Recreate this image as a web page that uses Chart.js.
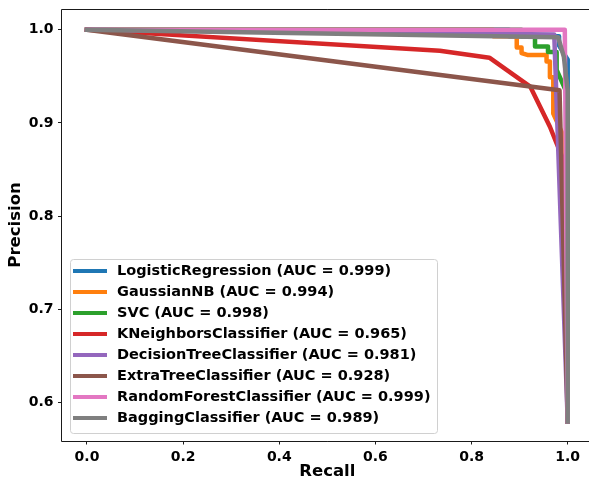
<!DOCTYPE html>
<html>
<head>
<meta charset="utf-8">
<script src="https://cdn.jsdelivr.net/npm/chart.js@4/dist/chart.umd.min.js"></script>
<style>
html,body{margin:0;padding:0;overflow:hidden;background:#fff;}
#wrap{width:600px;height:483px;}
</style>
</head>
<body>
<div id="wrap"><canvas id="c" width="600" height="483"></canvas></div>
<script>
// ---- data ----
const seriesNames = [
  "LogisticRegression (AUC = 0.999)",
  "GaussianNB (AUC = 0.994)",
  "SVC (AUC = 0.998)",
  "KNeighborsClassifier (AUC = 0.965)",
  "DecisionTreeClassifier (AUC = 0.981)",
  "ExtraTreeClassifier (AUC = 0.928)",
  "RandomForestClassifier (AUC = 0.999)",
  "BaggingClassifier (AUC = 0.989)"
];
const seriesColors = ["#1f77b4","#ff7f0e","#2ca02c","#d62728","#9467bd","#8c564b","#e377c2","#7f7f7f"];

const lrRecall    = [0, 0.878, 0.878, 0.982, 0.982, 1.0, 1.0];
const lrPrecision = [1, 1.0, 0.993, 0.993, 0.983, 0.968, 0.58];

const gnbRecall    = [0, 0.845, 0.845, 0.894, 0.894, 0.904, 0.904, 0.916, 0.956, 0.956, 0.963, 0.963, 0.970, 0.970, 0.992, 1.0];
const gnbPrecision = [1, 1.0, 0.993, 0.993, 0.981, 0.981, 0.975, 0.973, 0.973, 0.966, 0.966, 0.949, 0.949, 0.910, 0.885, 0.58];

const svcRecall    = [0, 0.904, 0.904, 0.932, 0.932, 0.959, 0.959, 0.977, 0.977, 1.0, 1.0];
const svcPrecision = [1, 1.0, 0.993, 0.993, 0.982, 0.982, 0.976, 0.976, 0.957, 0.93, 0.58];

const knnRecall    = [0, 0.734, 0.837, 0.922, 0.963, 0.977, 0.994, 1.0];
const knnPrecision = [1, 0.9775, 0.970, 0.939, 0.896, 0.878, 0.857, 0.58];

const dtRecall    = [0, 0.972, 1.0];
const dtPrecision = [1, 0.995, 0.58];

const etRecall    = [0, 0.983, 1.0];
const etPrecision = [1, 0.935, 0.58];

const rfRecall    = [0, 0.994, 1.0];
const rfPrecision = [1, 1.0, 0.58];

const bagRecall    = [0, 0.980, 0.992, 1.0, 1.0];
const bagPrecision = [1, 0.992, 0.971, 0.935, 0.58];

const allRecall = [lrRecall, gnbRecall, svcRecall, knnRecall, dtRecall, etRecall, rfRecall, bagRecall];
const allPrecision = [lrPrecision, gnbPrecision, svcPrecision, knnPrecision, dtPrecision, etPrecision, rfPrecision, bagPrecision];

const xTicks = [0.0, 0.2, 0.4, 0.6, 0.8, 1.0];
const yTicks = [0.6, 0.7, 0.8, 0.9, 1.0];
const xTitle = "Recall";
const yTitle = "Precision";

// ---- chart ----
const FONT = "'DejaVu Sans', 'Liberation Sans', sans-serif";
const datasets = seriesNames.map((name, i) => ({
  label: name,
  data: allRecall[i].map((r, k) => ({x: r, y: allPrecision[i][k]})),
  borderColor: seriesColors[i],
  backgroundColor: seriesColors[i],
  borderWidth: 4.5,
  borderCapStyle: 'square',
  borderJoinStyle: 'round',
  pointRadius: 0,
  tension: 0,
  fill: false,
  order: seriesNames.length - 1 - i
}));

const frameAndLegend = {
  id: 'frameAndLegend',
  afterDraw(chart) {
    const ctx = chart.ctx;
    const a = chart.chartArea;
    ctx.save();
    // spines (left, top, bottom, right)
    ctx.strokeStyle = '#1a1a1a';
    ctx.lineWidth = 1;
    ctx.beginPath();
    const L = Math.round(a.left) - 0.5, T = Math.round(a.top) - 0.5, B = Math.round(a.bottom) + 0.5, R = a.right;
    ctx.moveTo(L, T); ctx.lineTo(R, T);
    ctx.moveTo(L, B); ctx.lineTo(R, B);
    ctx.moveTo(L, T); ctx.lineTo(L, B);
    ctx.moveTo(R, T); ctx.lineTo(R, B);
    ctx.stroke();
    // legend
    const lx = 70, ly = 259, lw = 367, lh = 174;
    ctx.globalAlpha = 0.8;
    ctx.fillStyle = '#ffffff';
    ctx.beginPath();
    ctx.roundRect(lx + 0.5, ly + 0.5, lw, lh, 3);
    ctx.fill();
    ctx.globalAlpha = 1;
    ctx.strokeStyle = '#d0d0d0';
    ctx.lineWidth = 1;
    ctx.stroke();
    ctx.font = "bold 14.5px " + FONT;
    ctx.textBaseline = 'middle';
    ctx.textAlign = 'left';
    chart.data.datasets.forEach((ds, i) => {
      const y = ly + 12 + i * 21;
      ctx.strokeStyle = ds.borderColor;
      ctx.lineWidth = 4;
      ctx.lineCap = 'butt';
      ctx.beginPath();
      ctx.moveTo(73, y);
      ctx.lineTo(107, y);
      ctx.stroke();
      ctx.fillStyle = '#000';
      ctx.fillText(ds.label, 117, y + 0.5);
    });
    ctx.restore();
  }
};

new Chart(document.getElementById('c'), {
  type: 'line',
  data: { datasets },
  options: {
    responsive: false,
    animation: false,
    devicePixelRatio: 1,
    layout: { autoPadding: false, padding: { top: 9.5, right: 7.3, left: 0, bottom: 0 } },
    plugins: { legend: { display: false }, tooltip: { enabled: false } },
    scales: {
      x: {
        type: 'linear',
        min: -0.052, max: 1.052,
        afterBuildTicks: s => { s.ticks = xTicks.map(v => ({value: v})); },
        afterFit: s => { s.height = 42.5; s.paddingLeft = 0; s.paddingRight = 0; },
        ticks: { callback: v => Number(v).toFixed(1), color: '#000', font: { family: FONT, size: 14, weight: 'bold' }, padding: 4, maxRotation: 0 },
        grid: { display: true, drawOnChartArea: false, drawTicks: true, tickLength: 4, tickColor: '#1a1a1a', tickWidth: 1 },
        border: { display: false },
        title: { display: true, text: xTitle, color: '#000', font: { family: FONT, size: 16.5, weight: 'bold' }, padding: { top: 0, bottom: 1 } }
      },
      y: {
        type: 'linear',
        min: 0.5595, max: 1.0217,
        afterBuildTicks: s => { s.ticks = yTicks.map(v => ({value: v})); },
        afterFit: s => { s.width = 62; s.paddingTop = 0; s.paddingBottom = 0; },
        ticks: { callback: v => Number(v).toFixed(1), color: '#000', font: { family: FONT, size: 14, weight: 'bold' }, padding: 4.5 },
        grid: { display: true, drawOnChartArea: false, drawTicks: true, tickLength: 4, tickColor: '#1a1a1a', tickWidth: 1 },
        border: { display: false },
        title: { display: true, text: yTitle, color: '#000', font: { family: FONT, size: 16.5, weight: 'bold' }, padding: { top: 5.4, bottom: 0 } }
      }
    }
  },
  plugins: [frameAndLegend]
});
</script>
</body>
</html>
